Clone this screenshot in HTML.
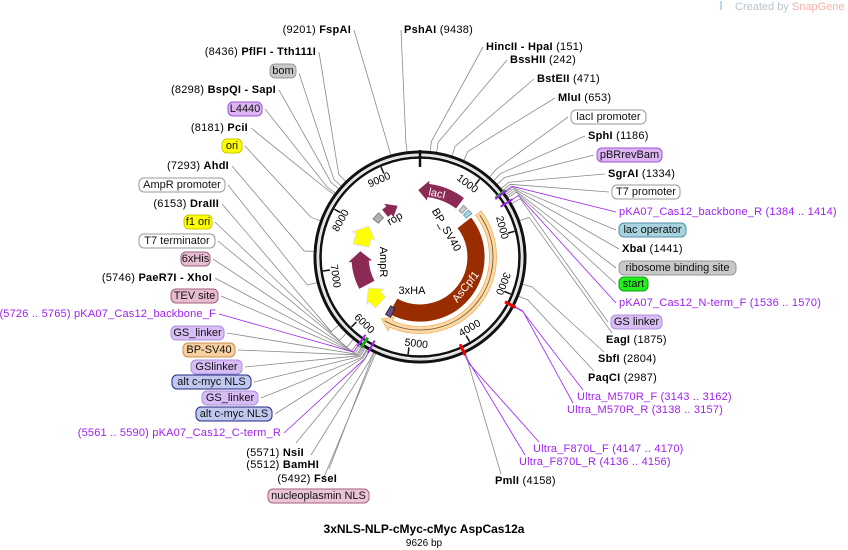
<!DOCTYPE html>
<html><head><meta charset="utf-8"><style>
html,body{margin:0;padding:0;background:#fff;}
svg{display:block;font-family:"Liberation Sans","DejaVu Sans",sans-serif;}
.t{font-size:11px;fill:#000;letter-spacing:0.25px;}
.b{font-weight:bold;}
.p{font-size:11px;fill:#a020f0;letter-spacing:0.2px;}
.bx{font-size:11px;fill:#111;}
</style></head><body>
<svg id="s" width="848" height="550" viewBox="0 0 848 550" xmlns="http://www.w3.org/2000/svg">
<g id="lines"></g>
<g id="map"></g>
<text x="735" y="10" style="font-size:11px;fill:#b8c4cc">Created by <tspan fill="#f3b3a8">SnapGene</tspan></text>
<rect x="720" y="1" width="2" height="9" fill="#bcd8e8"/>

<g class="t" text-anchor="end" dominant-baseline="central">
<text x="351" y="30">(9201)  <tspan class="b">FspAI</tspan></text>
<text x="316" y="52">(8436)  <tspan class="b">PflFI - Tth111I</tspan></text>
<text x="276" y="90">(8298)  <tspan class="b">BspQI - SapI</tspan></text>
<text x="248" y="128">(8181)  <tspan class="b">PciI</tspan></text>
<text x="229" y="166">(7293)  <tspan class="b">AhdI</tspan></text>
<text x="219" y="204">(6153)  <tspan class="b">DraIII</tspan></text>
<text x="212" y="278">(5746)  <tspan class="b">PaeR7I - XhoI</tspan></text>
<text x="216" y="314" class="p">(5726 .. 5765)  pKA07_Cas12_backbone_F</text>
<text x="281" y="433" class="p">(5561 .. 5590)  pKA07_Cas12_C-term_R</text>
<text x="304" y="453">(5571)  <tspan class="b">NsiI</tspan></text>
<text x="319" y="465">(5512)  <tspan class="b">BamHI</tspan></text>
<text x="337" y="479">(5492)  <tspan class="b">FseI</tspan></text>
</g>
<g class="t" dominant-baseline="central">
<text x="404" y="30"><tspan class="b">PshAI</tspan>  (9438)</text>
<text x="486" y="47"><tspan class="b">HincII - HpaI</tspan>  (151)</text>
<text x="510" y="60"><tspan class="b">BssHII</tspan>  (242)</text>
<text x="537" y="79"><tspan class="b">BstEII</tspan>  (471)</text>
<text x="558" y="98"><tspan class="b">MluI</tspan>  (653)</text>
<text x="588" y="136"><tspan class="b">SphI</tspan>  (1186)</text>
<text x="608" y="174"><tspan class="b">SgrAI</tspan>  (1334)</text>
<text x="619" y="212" class="p">pKA07_Cas12_backbone_R   (1384 .. 1414)</text>
<text x="622" y="249"><tspan class="b">XbaI</tspan>  (1441)</text>
<text x="619" y="303" class="p">pKA07_Cas12_N-term_F   (1536 .. 1570)</text>
<text x="606" y="340"><tspan class="b">EagI</tspan>  (1875)</text>
<text x="598" y="359"><tspan class="b">SbfI</tspan>  (2804)</text>
<text x="588" y="378"><tspan class="b">PaqCI</tspan>  (2987)</text>
<text x="577" y="397" class="p">Ultra_M570R_F   (3143 .. 3162)</text>
<text x="567" y="410" class="p">Ultra_M570R_R   (3138 .. 3157)</text>
<text x="533" y="449" class="p">Ultra_F870L_F   (4147 .. 4170)</text>
<text x="519" y="462" class="p">Ultra_F870L_R   (4136 .. 4156)</text>
<text x="495" y="481"><tspan class="b">PmlI</tspan>  (4158)</text>
</g>
<g class="bx" text-anchor="middle" dominant-baseline="central">
<rect x="270" y="64" width="26" height="14" rx="5" fill="#c8c8c8" stroke="#999"/><text x="283" y="71">bom</text>
<rect x="228" y="102" width="34" height="14" rx="5" fill="#dcb4f4" stroke="#a050d8"/><text x="245" y="109">L4440</text>
<rect x="222" y="139" width="20" height="14" rx="5" fill="#ffff00" stroke="#c8c800"/><text x="232" y="146">ori</text>
<rect x="139" y="178" width="86" height="14" rx="5" fill="#fff" stroke="#999"/><text x="182" y="185">AmpR promoter</text>
<rect x="184" y="215" width="28" height="14" rx="5" fill="#ffff00" stroke="#c8c800"/><text x="198" y="222">f1 ori</text>
<rect x="139" y="234" width="76" height="14" rx="5" fill="#fff" stroke="#999"/><text x="177" y="241">T7 terminator</text>
<rect x="181" y="252" width="29" height="14" rx="5" fill="#e8bcd0" stroke="#a06080"/><text x="195.5" y="259">6xHis</text>
<rect x="171" y="289" width="47" height="14" rx="5" fill="#e8bcd0" stroke="#a06080"/><text x="194.5" y="296">TEV site</text>
<rect x="171" y="326" width="53" height="14" rx="5" fill="#d8bcf4" stroke="#b090e0"/><text x="197.5" y="333">GS_linker</text>
<rect x="183" y="343" width="52" height="14" rx="5" fill="#f8d0a0" stroke="#c89050"/><text x="209" y="350">BP-SV40</text>
<rect x="191" y="360" width="51" height="14" rx="5" fill="#d8bcf4" stroke="#b090e0"/><text x="216.5" y="367">GSlinker</text>
<rect x="172" y="375" width="79" height="14" rx="5" fill="#c0c8f0" stroke="#202880"/><text x="211.5" y="382">alt c-myc NLS</text>
<rect x="202" y="391" width="56" height="14" rx="5" fill="#d8bcf4" stroke="#b090e0"/><text x="230" y="398">GS_linker</text>
<rect x="196" y="407" width="76" height="14" rx="5" fill="#c0c8f0" stroke="#202880"/><text x="234" y="414">alt c-myc NLS</text>
<rect x="268" y="489" width="101" height="14" rx="5" fill="#ecc4d8" stroke="#a06080"/><text x="318.5" y="496">nucleoplasmin NLS</text>
<rect x="571" y="110" width="75" height="14" rx="5" fill="#fff" stroke="#999"/><text x="608.5" y="117">lacI promoter</text>
<rect x="597" y="148" width="65" height="14" rx="5" fill="#dcb4f4" stroke="#a050d8"/><text x="629.5" y="155">pBRrevBam</text>
<rect x="612" y="185" width="68" height="14" rx="5" fill="#fff" stroke="#999"/><text x="646" y="192">T7 promoter</text>
<rect x="619" y="223" width="67" height="14" rx="5" fill="#a8d4e0" stroke="#5090a8"/><text x="652.5" y="230">lac operator</text>
<rect x="619" y="261" width="117" height="14" rx="5" fill="#c8c8c8" stroke="#999"/><text x="677.5" y="268">ribosome binding site</text>
<rect x="619" y="277" width="29" height="14" rx="5" fill="#22ee22" stroke="#10a010"/><text x="633.5" y="284">start</text>
<rect x="611" y="315" width="51" height="14" rx="5" fill="#d8bcf4" stroke="#b090e0"/><text x="636.5" y="322">GS linker</text>
</g>
<text x="424" y="533" text-anchor="middle" style="font-size:12px;font-weight:bold">3xNLS-NLP-cMyc-cMyc AspCas12a</text>
<text x="424" y="546" text-anchor="middle" style="font-size:10px">9626 bp</text>
<g id="ticks" style="font-size:10.5px" text-anchor="middle" dominant-baseline="central">
<text id="k1">1000</text><text id="k2">2000</text><text id="k3">3000</text><text id="k4">4000</text><text id="k5">5000</text><text id="k6">6000</text><text id="k7">7000</text><text id="k8">8000</text><text id="k9">9000</text>
</g>
<g style="font-size:11px" text-anchor="middle" dominant-baseline="central">
<text x="437" y="194" fill="#fff" transform="rotate(12 437 194)">lacI</text>
<text x="395" y="219" fill="#000" transform="rotate(-30 395 219)">rop</text>
<text x="383" y="262" fill="#000" transform="rotate(90 383 262)">AmpR</text>
<text x="446" y="230" fill="#000" transform="rotate(60 446 230)">BP_SV40</text>
<text x="412" y="291" fill="#000">3xHA</text>
<text x="466" y="287" fill="#fff" transform="rotate(-52 466 287)">AsCpf1</text>
</g>
</svg>
<script>
var NS="http://www.w3.org/2000/svg",cx=420,cy=257;
function P(r,a){var t=a*Math.PI/180;return [cx+r*Math.sin(t),cy-r*Math.cos(t)];}
function el(par,tag,at){var e=document.createElementNS(NS,tag);for(var k in at)e.setAttribute(k,at[k]);document.getElementById(par).appendChild(e);return e;}
var G="#8a8a8a",V="#a020f0";
var L=[[351,30,344,0],[316,52,315.5,0],[296,73,312,0],[276,90,310,0],[262,109,307,0],[248,128,306,0],[242,146,290,0],[229,166,273,0],[225,185,256,0],[219,204,230,0],[212,222,224,0],[215,241,219,0],[210,259,216,0],[212,278,215,0],[218,296,214,0],[216,314,215,1],[224,333,213,0],[235,350,212.4,0],[242,367,211.7,0],[251,382,211,0],[258,398,210,0],[272,414,209.5,0],[281,433,208.5,1],[304,450,208.3,0],[319,462,206,0],[337,476,205.4,0],[330,489,204.6,0]];
var R=[[404,30,353,0],[486,47,5.6,0],[510,60,9,0],[537,79,17.6,0],[558,98,24.4,0],[571,117,41,0],[588,136,44,0],[597,155,46.7,0],[608,174,49.9,0],[612,192,51.2,0],[619,212,52.4,1],[619,230,53,0],[622,249,53.9,0],[619,268,55,0],[619,284,56,0],[619,303,58,1],[611,322,59.8,0],[606,340,70,0],[598,359,104.9,0],[588,378,111.7,0],[577,397,117.9,1],[567,410,117.7,1],[533,449,155.5,1],[519,462,155,1],[495,481,155.5,0]];
function lead(d,side){var a=P(106,d[2]),b=P(116,d[2]);var x=side?d[0]-3:d[0]+3,y=d[1];
 if(side&&d[1]>330){x=d[0]+6;y=d[1]-7;}
 if(!side&&d[1]>440){x=d[0]-8;y=d[1]-7;}
 el("lines","polyline",{points:a.join(",")+" "+b.join(",")+" "+x+","+y,fill:"none",stroke:d[3]?V:G,"stroke-width":0.8});}
L.forEach(function(d){lead(d,0)});R.forEach(function(d){lead(d,1)});
el("map","circle",{cx:cx,cy:cy,r:105,fill:"none",stroke:"#111","stroke-width":3});
el("map","circle",{cx:cx,cy:cy,r:99.5,fill:"none",stroke:"#111","stroke-width":2.5});
el("map","circle",{cx:cx,cy:cy,r:102.2,fill:"none",stroke:"#ddd","stroke-width":1.5});
var a=P(107,0),b=P(90,0);el("map","line",{x1:a[0],y1:a[1],x2:b[0],y2:b[1],stroke:"#111","stroke-width":2.5});
for(var i=1;i<=9;i++){var d=i*1000/9626*360;var p1=P(98,d),p2=P(91,d);
 el("map","line",{x1:p1[0],y1:p1[1],x2:p2[0],y2:p2[1],stroke:"#111","stroke-width":1.5});
 var q=P(87,d-4.5),t=document.getElementById("k"+i),rot=(d<=118||d>=295)?d:d-180;
 t.setAttribute("x",q[0]);t.setAttribute("y",q[1]);t.setAttribute("transform","rotate("+rot+" "+q[0]+" "+q[1]+")");}
function arc(r,w,a1,a2,head,col,stroke){var h=head?(11/r)*180/Math.PI:0;var ro=r+w/2,ri=r-w/2,s="";
 var A1=a1,A2=a2;if(head==2)A2=a2-h;if(head==1)A1=a1+h;
 function pp(rr,aa){var p=P(rr,aa);return p[0].toFixed(2)+","+p[1].toFixed(2);}
 var lg=(A2-A1)>180?1:0;
 if(head==1){s+="M"+pp(r,a1)+" L"+pp(ro+4,A1)+" L"+pp(ro,A1);}else s+="M"+pp(ro,A1);
 s+=" A"+ro+","+ro+" 0 "+lg+" 1 "+pp(ro,A2);
 if(head==2){s+=" L"+pp(ro+4,A2)+" L"+pp(r,a2)+" L"+pp(ri-4,A2)+" L"+pp(ri,A2);}else s+=" L"+pp(ri,A2);
 s+=" A"+ri+","+ri+" 0 "+lg+" 0 "+pp(ri,A1);
 if(head==1)s+=" L"+pp(ri-4,A1);
 s+=" Z";el("map","path",{d:s,fill:col,stroke:stroke||"#fff","stroke-width":0.8});}
arc(73,7,53,212,2,"#fbd9a6","#f0b060");
el("map","path",{d:(function(){var p=P(73,55),q=P(73,209);return "M"+p+" A73,73 0 0 1 "+q;})(),fill:"none",stroke:"#6a4a20","stroke-width":0.8});
arc(56,18,52,209,0,"#992d00","#fff");
arc(67,14,358,37,1,"#8c2a56","#fff");
arc(56,10,321,337,2,"#8c2a56","#fff");
arc(57,7,309,317,0,"#b0b0b0","#777");
arc(60,16,281,301,2,"#ffff00","#ddd");
arc(60,18,242,276,2,"#8c2a56","#fff");
arc(60,15,221,239,2,"#ffff00","#ddd");
arc(62,10,206,211,0,"#6a4a8a","#222");
arc(64,7,40,44,0,"#ccc","#888");
arc(64,7,46,50,0,"#a8d4e0","#5090a8");
[[52,"#2a2"],[213,"#2a2"],[117.8,"#e00"],[155.3,"#e00"]].forEach(function(m){var p=P(96,m[0]),q=P(108,m[0]);el("map","line",{x1:p[0],y1:p[1],x2:q[0],y2:q[1],stroke:m[1],"stroke-width":3});});
[[52.4,V],[58,V],[215,V],[208.5,V]].forEach(function(m){var p=P(95,m[0]),q=P(109,m[0]);el("map","line",{x1:p[0],y1:p[1],x2:q[0],y2:q[1],stroke:m[1],"stroke-width":2});});
</script>
</body></html>
